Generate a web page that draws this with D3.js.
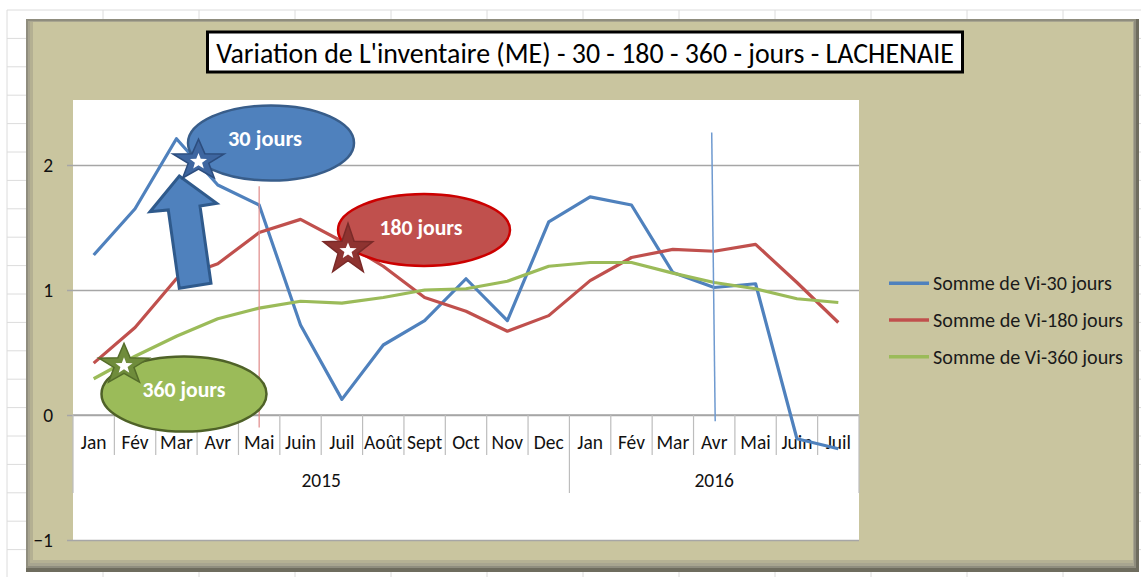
<!DOCTYPE html>
<html><head><meta charset="utf-8">
<script src="https://cdn.jsdelivr.net/npm/d3@7"></script>
<style>
html,body{margin:0;padding:0;background:#fff;}
svg{display:block;font-family:Carlito, Lato, "Open Sans", sans-serif;}
</style></head>
<body>
<svg id="c" width="1141" height="577"></svg>
<script>
// ---- data ----
const months = ["Jan","Fév","Mar","Avr","Mai","Juin","Juil","Août","Sept","Oct","Nov","Dec","Jan","Fév","Mar","Avr","Mai","Juin","Juil"];
const years = ["2015","2016"];
const yearSpans = [12, 7];
const vi30  = [1.28,1.65,2.21,1.84,1.68,0.72,0.125,0.56,0.755,1.09,0.755,1.545,1.745,1.68,1.14,1.02,1.05,-0.19,-0.27];
const vi180 = [0.415,0.70,1.09,1.21,1.46,1.565,1.39,1.19,0.94,0.83,0.67,0.795,1.075,1.26,1.325,1.31,1.365,1.06,0.74];
const vi360 = [0.29,0.47,0.63,0.77,0.855,0.91,0.895,0.94,1.00,1.01,1.07,1.19,1.22,1.22,1.135,1.06,1.01,0.93,0.90];
const seriesNames = ["Somme de Vi-30 jours","Somme de Vi-180 jours","Somme de Vi-360 jours"];
const yTicks = [-1,0,1,2];
const title = "Variation de L'inventaire (ME) - 30 - 180 - 360 - jours - LACHENAIE";
const bubbleLabels = ["30 jours","180 jours","360 jours"];

const colors = ["#4F81BD","#C0504D","#9BBB59"];
const svg = d3.select("#c");

function fitText(t, w){
  const cur = +t.attr("font-size");
  const len = t.node().getComputedTextLength();
  if (len>0) t.attr("font-size", cur*w/len);
}
function sizeFor(sample, w, weight){
  const t = svg.append("text").attr("font-size",20).attr("font-weight",weight||"normal").text(sample);
  const len = t.node().getComputedTextLength();
  t.remove();
  return 20*w/len;
}
const axisFont = sizeFor("2015", 39.5);

// spreadsheet grid background
const bg = svg.append("g");
for (let x = 7; x < 1141; x += 96) bg.append("line").attr("x1",x).attr("x2",x).attr("y1",10).attr("y2",577).attr("stroke","#DCDCDC");
for (let y = 10; y < 577; y += 28.4) bg.append("line").attr("x1",7).attr("x2",1141).attr("y1",y).attr("y2",y).attr("stroke","#DCDCDC");

// chart frame
const fr = svg.append("g");
fr.append("rect").attr("x",26).attr("y",19).attr("width",1113).attr("height",553).attr("fill","#6E6C5E");
fr.append("rect").attr("x",26).attr("y",19).attr("width",1110).attr("height",549).attr("fill","#8F8D7E");
fr.append("rect").attr("x",28).attr("y",21).attr("width",1106).attr("height",545).attr("fill","#A8A590");
fr.append("rect").attr("x",30).attr("y",22).attr("width",1103).attr("height",541).attr("fill","#C9C59F");
fr.append("rect").attr("x",30).attr("y",22).attr("width",3).attr("height",541).attr("fill","#B4B092");
fr.append("rect").attr("x",30).attr("y",560).attr("width",1103).attr("height",3).attr("fill","#B5B194");

// plot area
const L = 73, R = 859, T = 100, B = 540;
svg.append("rect").attr("x",L).attr("y",T).attr("width",R-L).attr("height",B-T).attr("fill","#fff");

const x = d3.scaleBand().domain(d3.range(months.length)).range([L,R]).padding(0);
const y = d3.scaleLinear().domain([-1,2.52]).range([B,T]);
const bw = x.bandwidth();

// y axis with gridlines
const yAxis = svg.append("g").attr("transform",`translate(${L-6},0)`)
  .call(d3.axisLeft(y).tickValues(yTicks).tickSize(-(R-L+6)).tickPadding(14).tickFormat(d3.format("d")));
yAxis.attr("font-family",null).attr("font-size",null);
yAxis.select(".domain").remove();
yAxis.selectAll(".tick line").attr("stroke","#A6A6A6").attr("stroke-width",1.5);
yAxis.selectAll(".tick text").attr("font-size",axisFont).attr("fill","#111");

// category axis
const cat = svg.append("g");
cat.append("line").attr("x1",L).attr("x2",R).attr("y1",y(0)).attr("y2",y(0)).attr("stroke","#A6A6A6").attr("stroke-width",1.5);
d3.range(months.length+1).forEach(i=>{
  const xx = i < months.length ? x(i) : R;
  cat.append("line").attr("x1",xx).attr("x2",xx).attr("y1",y(0)).attr("y2",y(0)+40).attr("stroke","#BDBDBD").attr("stroke-width",1.2);
});
cat.selectAll("text.m").data(months).join("text").attr("class","m")
  .attr("x",(d,i)=>x(i)+bw/2).attr("y",y(0)+27).attr("dy","0.35em").attr("text-anchor","middle")
  .attr("font-size",axisFont).attr("fill","#111").text(d=>d);
let acc = 0;
years.forEach((yr,k)=>{
  const s = acc, e = acc + yearSpans[k];
  const x0 = x(s), x1 = e < months.length ? x(e) : R;
  cat.append("line").attr("x1",x1).attr("x2",x1).attr("y1",y(0)+40).attr("y2",y(0)+78).attr("stroke","#BDBDBD").attr("stroke-width",1.2);
  if (k===0) cat.append("line").attr("x1",x0).attr("x2",x0).attr("y1",y(0)+40).attr("y2",y(0)+78).attr("stroke","#BDBDBD").attr("stroke-width",1.2);
  cat.append("text").attr("x",(x0+x1)/2).attr("y",y(0)+65).attr("dy","0.35em").attr("text-anchor","middle")
    .attr("font-size",axisFont).attr("fill","#111").text(yr);
  acc = e;
});

// series lines
const line = d3.line().x((d,i)=>x(i)+bw/2).y(d=>y(d));
[vi30,vi180,vi360].forEach((s,k)=>{
  svg.append("path").datum(s).attr("d",line).attr("fill","none")
    .attr("stroke",colors[k]).attr("stroke-width",3.2).attr("stroke-linejoin","round");
});

// thin vertical marker lines
svg.append("line").attr("x1",x(4)+bw/2).attr("x2",x(4)+bw/2).attr("y1",y(1.83)).attr("y2",y(-0.1))
  .attr("stroke","#E08A88").attr("stroke-width",1.2);
svg.append("line").attr("x1",x(15)+bw/2-2.5).attr("x2",x(15)+bw/2+1).attr("y1",y(2.26)).attr("y2",y(-0.05))
  .attr("stroke","#6F9AD0").attr("stroke-width",1.5);

// annotations
function starPath(cx,cy,rx,ry,ratio){
  const pts=[];
  for(let i=0;i<10;i++){
    const a = -Math.PI/2 + i*Math.PI/5;
    const f = i%2===0 ? 1 : ratio;
    pts.push([cx+Math.cos(a)*rx*f, cy+Math.sin(a)*ry*f]);
  }
  return "M"+pts.map(p=>p.join(",")).join("L")+"Z";
}
const ann = svg.append("g");

// blue arrow
ann.append("path").attr("d","M179.3,176 L216.7,203.3 L200,206 L211,283.3 L179.3,288.3 L168.3,210 L150,211.7 Z")
  .attr("fill","#4F81BD").attr("stroke","#2F5A8C").attr("stroke-width",3).attr("stroke-linejoin","miter");

// ellipses
const bubbles = [
  {cx:271,cy:143,rx:83,ry:37.5,fill:"#4F81BD",stroke:"#385D8A",tx:265,ty:138,tw:74},
  {cx:424,cy:230,rx:86,ry:36,fill:"#C0504D",stroke:"#CC0000",tx:421,ty:227,tw:83},
  {cx:184,cy:394,rx:82.5,ry:37.5,fill:"#9BBB59",stroke:"#4F6228",tx:184,ty:389,tw:83}
];
bubbles.forEach((b,k)=>{
  ann.append("ellipse").attr("cx",b.cx).attr("cy",b.cy).attr("rx",b.rx).attr("ry",b.ry)
    .attr("fill",b.fill).attr("stroke",b.stroke).attr("stroke-width",2.5);
  const t = ann.append("text").attr("x",b.tx).attr("y",b.ty).attr("dy","0.35em").attr("text-anchor","middle")
    .attr("font-size",17).attr("font-weight","bold").attr("fill","#fff").text(bubbleLabels[k]);
  fitText(t,b.tw);
});

// stars
const stars = [
  {cx:198.5,cy:160.6,rx:27,ry:21.5,fill:"#3E66A0",stroke:"#2C4D7E"},
  {cx:348,cy:250,rx:26,ry:26.7,fill:"#8E3330",stroke:"#7A2A28"},
  {cx:124,cy:364.8,rx:26.3,ry:21.5,fill:"#6F8C3B",stroke:"#556D2A"}
];
stars.forEach(s=>{
  ann.append("path").attr("d",starPath(s.cx,s.cy,s.rx,s.ry,0.4)).attr("fill",s.fill).attr("stroke",s.stroke).attr("stroke-width",1.5);
  ann.append("path").attr("d",starPath(s.cx,s.cy+1,9,8.5,0.42)).attr("fill","#fff");
});

// title
const tg = svg.append("g");
tg.append("rect").attr("x",207.5).attr("y",32).attr("width",755).attr("height",40)
  .attr("fill","#fff").attr("stroke","#000").attr("stroke-width",3);
const tt = tg.append("text").attr("x",585).attr("y",53).attr("dy","0.35em").attr("text-anchor","middle")
  .attr("font-size",22).attr("fill","#000").text(title);
fitText(tt,738);

// legend
const lg = svg.append("g");
const ly = [283.3,320,356.7];
seriesNames.forEach((n,k)=>{
  lg.append("line").attr("x1",889).attr("x2",929).attr("y1",ly[k]).attr("y2",ly[k]).attr("stroke",colors[k]).attr("stroke-width",3.5);
  const t = lg.append("text").attr("x",933).attr("y",ly[k]).attr("dy","0.35em").attr("font-size",16).attr("fill","#1a1a1a").text(n);
  fitText(t, k===0?179:190);
});
</script>
</body></html>
